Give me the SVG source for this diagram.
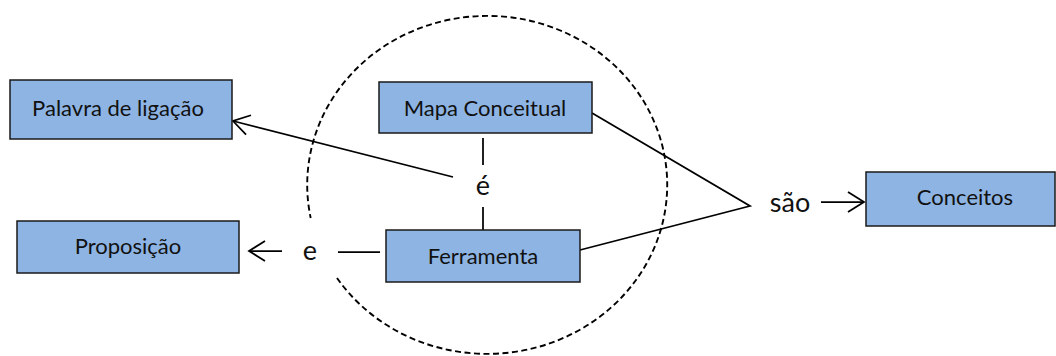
<svg xmlns="http://www.w3.org/2000/svg" width="1056" height="356" viewBox="0 0 1056 356">
  <style>
    .box rect { fill: #8EB4E3; stroke: #1a1a1a; stroke-width: 1.5; }
    .box text { font-family: Lato, "Liberation Sans", sans-serif; font-size: 22px; fill: #111; text-anchor: middle; }
    .lbl { font-family: Lato, "Liberation Sans", sans-serif; font-size: 27px; fill: #111; text-anchor: middle; }
    .ln { stroke: #000; stroke-width: 1.75; fill: none; }
    .scope { stroke: #000; stroke-width: 1.9; fill: none; stroke-dasharray: 6 3.5; }
  </style>
  <defs>
    <marker id="open" markerUnits="userSpaceOnUse" markerWidth="30" markerHeight="30" refX="0" refY="0" viewBox="-20 -15 30 30" orient="auto" overflow="visible">
      <path d="M -16 -10 L 0 0 L -16 10" stroke="#000" stroke-width="1.75" fill="none"/>
    </marker>
  </defs>
  <rect width="1056" height="356" fill="#fff"/>

  <!-- dashed scope around the central pair, open on the left behind "e" -->
  <path class="scope" d="M 337 278 A 180 169 0 1 0 310.7 218"/>

  <g id="connectors">
    <line class="ln" x1="453" y1="177" x2="233" y2="121" marker-end="url(#open)"/>
    <line class="ln" x1="483" y1="138" x2="483" y2="165"/>
    <line class="ln" x1="483" y1="207" x2="483" y2="230"/>
    <line class="ln" x1="380" y1="252" x2="338" y2="252"/>
    <line class="ln" x1="282" y1="251" x2="249" y2="251" marker-end="url(#open)"/>
    <polyline class="ln" points="592,113 750,206 580,250"/>
    <line class="ln" x1="821" y1="202" x2="864" y2="202" marker-end="url(#open)"/>
    <text class="lbl" x="483" y="195">é</text>
    <text class="lbl" x="310" y="260">e</text>
    <text class="lbl" x="790" y="212">são</text>
  </g>

  <g id="palavra" class="box">
    <rect x="10" y="80" width="222" height="59"/>
    <text x="118" y="116">Palavra de ligação</text>
  </g>
  <g id="proposicao" class="box">
    <rect x="17" y="221" width="222" height="52"/>
    <text x="128" y="254">Proposição</text>
  </g>
  <g id="mapa" class="box">
    <rect x="379" y="82" width="213" height="51"/>
    <text x="485" y="116">Mapa Conceitual</text>
  </g>
  <g id="ferramenta" class="box">
    <rect x="386" y="230" width="194" height="52"/>
    <text x="483" y="264">Ferramenta</text>
  </g>
  <g id="conceitos" class="box">
    <rect x="866" y="172" width="189" height="54"/>
    <text x="965" y="205">Conceitos</text>
  </g>
</svg>
